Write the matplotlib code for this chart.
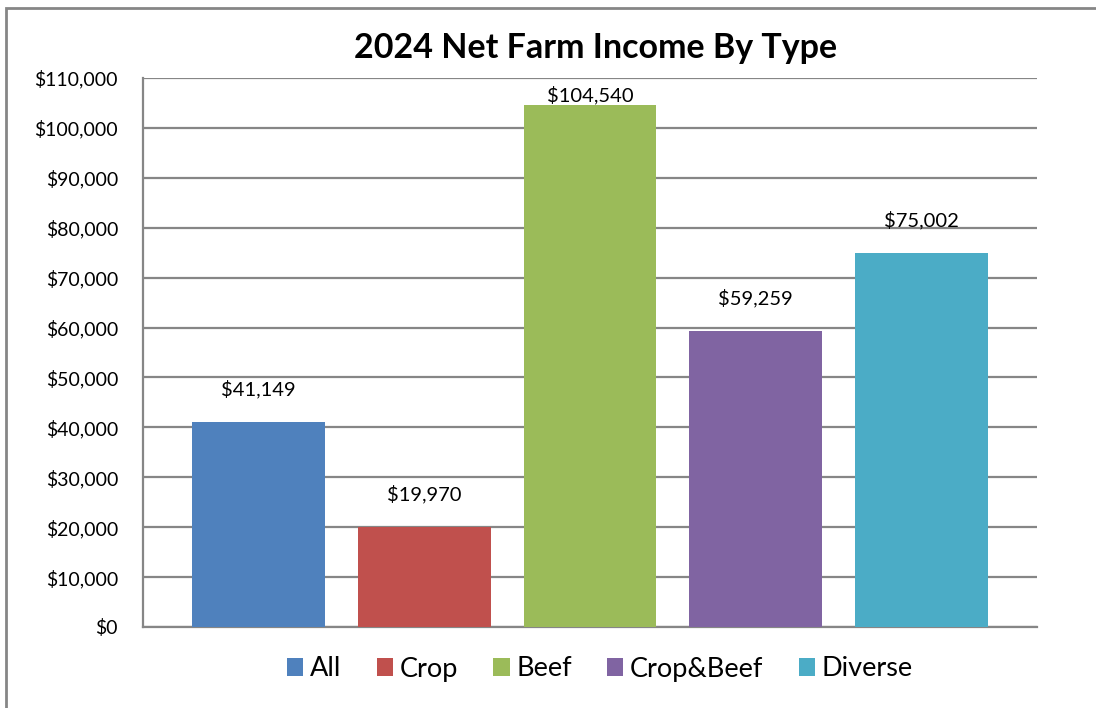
import matplotlib
matplotlib.use("Agg")
import matplotlib.pyplot as plt
from matplotlib.patches import Rectangle
from matplotlib.ticker import FuncFormatter

# data
categories = ["All", "Crop", "Beef", "Crop&Beef", "Diverse"]
income = [41149, 19970, 104540, 59259, 75002]
colors = ["#4F81BD", "#C0504D", "#9BBB59", "#8064A2", "#4BACC6"]
y_ticks = list(range(0, 110001, 10000))

plt.rcParams['font.family'] = ['Lato', 'DejaVu Sans']
grid_col = "#868686"

fig = plt.figure(figsize=(10.96, 7.08), dpi=100)
ax = fig.add_axes([143/1096, 1 - 627/708, (1037-143)/1096, (627-78)/708])

# outer chart frame (right and bottom run off the image)
fig.patches.append(Rectangle((6/1096, -0.05), 1.1, 0.05 + 1 - 8/708,
                             transform=fig.transFigure, fill=False,
                             edgecolor=grid_col, linewidth=2))

x = list(range(len(categories)))
bars = ax.bar(x, income, width=0.8, color=colors, label=categories, zorder=3)

ax.set_xlim(-0.696, 4.696)
ax.set_ylim(0, 110000)
ax.set_yticks(y_ticks)
ax.yaxis.set_major_formatter(FuncFormatter(lambda v, p: "${:,.0f}".format(v)))
ax.set_xticks([])
ax.tick_params(axis="y", length=0, pad=18, labelsize=14)
ax.grid(axis="y", color=grid_col, linewidth=1.6, zorder=0)
for s in ["top", "right"]:
    ax.spines[s].set_visible(False)
ax.spines["left"].set_color(grid_col)
ax.spines["left"].set_linewidth(1.6)
ax.spines["bottom"].set_color(grid_col)
ax.spines["bottom"].set_linewidth(1.6)

# value labels; the tallest one is pushed down to fit inside the plot
for xi, v in zip(x, income):
    ly = min(v + 6600, 106600)
    ax.text(xi, ly, "${:,.0f}".format(v), ha="center", va="center", fontsize=14.5)

fig.text(596/1096, 1 - 48/708, "2024 Net Farm Income By Type",
         ha="center", va="center", fontsize=24.5, fontweight="bold")

fig.legend(handles=bars, labels=categories, loc="center",
           bbox_to_anchor=(600/1096, 1 - 669/708), ncol=5, frameon=False,
           fontsize=19.5, handlelength=0.6, handleheight=0.6,
           handletextpad=0.25, columnspacing=1.3)

fig.savefig("out.png", dpi=100, facecolor="white")
